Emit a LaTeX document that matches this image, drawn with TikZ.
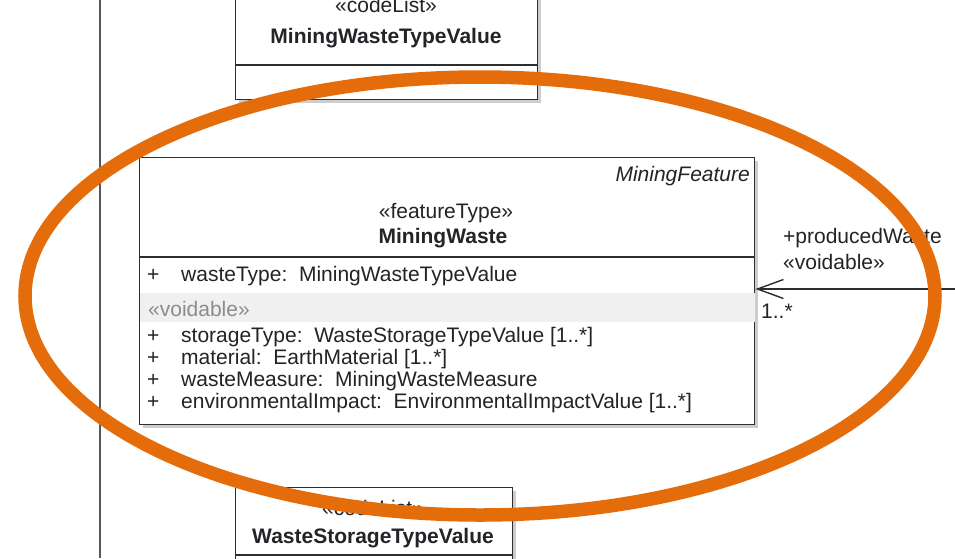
\documentclass[tikz,border=0pt]{standalone}
\usepackage{fontspec}
\setmainfont{Liberation Sans}
\usetikzlibrary{arrows.meta,shadows}
\definecolor{linec}{RGB}{45,45,50}
\definecolor{txtc}{RGB}{35,35,40}
\definecolor{bandc}{RGB}{240,240,240}
\definecolor{vgray}{RGB}{140,140,140}
\definecolor{orangec}{RGB}{228,108,10}
\definecolor{shadc}{RGB}{205,205,205}
\begin{document}
\begin{tikzpicture}[x=1pt,y=-1pt,
  umlbox/.style={draw=linec, line width=1.4pt, fill=white, inner sep=0pt, anchor=north west,
    drop shadow={shadow xshift=3pt, shadow yshift=-3pt, fill=shadc, opacity=1}},
  sepline/.style={draw=linec, line width=1.4pt},
  txt/.style={inner sep=0pt, text=txtc, font=\fontsize{21}{22}\selectfont},
  btxt/.style={inner sep=0pt, text=txtc, font=\fontsize{21}{22}\selectfont\bfseries},
  itxt/.style={inner sep=0pt, text=txtc, font=\fontsize{21}{22}\selectfont\itshape},
  gtxt/.style={inner sep=0pt, text=vgray, font=\fontsize{21}{22}\selectfont},
  assoc/.style={draw=linec, line width=1.4pt, -{Straight Barb[length=26pt,width=19pt,line width=1.4pt]}},
  ring/.style={draw=orangec, line width=13.5pt}
]
\useasboundingbox (0,0) rectangle (955,558);
\clip (0,0) rectangle (955,558);
\fill[white] (0,0) rectangle (955,558);

% frame line on the left
\coordinate (vtop) at (100,0);
\coordinate (vbot) at (100,558);
\draw[draw=linec!80, line width=1.4pt] (vtop) -- (vbot);

% top code list box
\node[umlbox, minimum width=302pt, minimum height=109pt] (ct) at (235,-10) {};
\draw[sepline] (ct.west |- 0,65) -- (ct.east |- 0,65);
\node[txt, anchor=base] (ctst) at (386,12) {«codeList»};
\node[btxt, anchor=base] (ctname) at (386,43) {MiningWasteTypeValue};

% main feature type box
\node[umlbox, minimum width=615pt, minimum height=267pt] (mw) at (139,157) {};
\fill[bandc] ([xshift=0.7pt]mw.west |- 0,293) rectangle ([xshift=-0.7pt]mw.east |- 0,322);
\draw[sepline] (mw.west |- 0,257) -- (mw.east |- 0,257);
\node[itxt, anchor=base east] (mwpkg) at (750,181) {MiningFeature};
\node[txt, anchor=base] (mwst) at (446,218) {«featureType»};
\node[btxt, anchor=base] (mwname) at (443,243) {MiningWaste};

\node[txt, anchor=base west] (p1) at (147,281) {+};
\node[txt, anchor=base west] (a1) at (181,281) {wasteType:\ \ MiningWasteTypeValue};
\node[gtxt, anchor=base west] (vd) at (148,316) {«voidable»};
\node[txt, anchor=base west] (p2) at (147,342) {+};
\node[txt, anchor=base west] (a2) at (181,342) {storageType:\ \ WasteStorageTypeValue [1..*]};
\node[txt, anchor=base west] (p3) at (147,364) {+};
\node[txt, anchor=base west] (a3) at (181,364) {material:\ \ EarthMaterial [1..*]};
\node[txt, anchor=base west] (p4) at (147,386) {+};
\node[txt, anchor=base west] (a4) at (181,386) {wasteMeasure:\ \ MiningWasteMeasure};
\node[txt, anchor=base west] (p5) at (147,408) {+};
\node[txt, anchor=base west] (a5) at (181,408) {environmentalImpact:\ \ EnvironmentalImpactValue [1..*]};

% bottom code list box
\node[umlbox, minimum width=277pt, minimum height=100pt] (ws) at (235,487) {};
\draw[sepline] (ws.west |- 0,555) -- (ws.east |- 0,555);
\node[txt, anchor=base] (wsst) at (373,515) {«codeList»};
\node[btxt, anchor=base] (wsname) at (373,543) {WasteStorageTypeValue};

% association
\coordinate (pwend) at (956,289);
\draw[assoc] (pwend) -- (mw.east |- pwend);
\node[txt, anchor=base west] (rl1) at (783,243) {+producedWaste};
\node[txt, anchor=base west] (rl2) at (783,269) {«voidable»};
\node[txt, anchor=base west] (mult) at (761,318) {1..*};

% orange highlight ring
\draw[ring] (480,296) ellipse [x radius=455, y radius=219];
\end{tikzpicture}
\end{document}
